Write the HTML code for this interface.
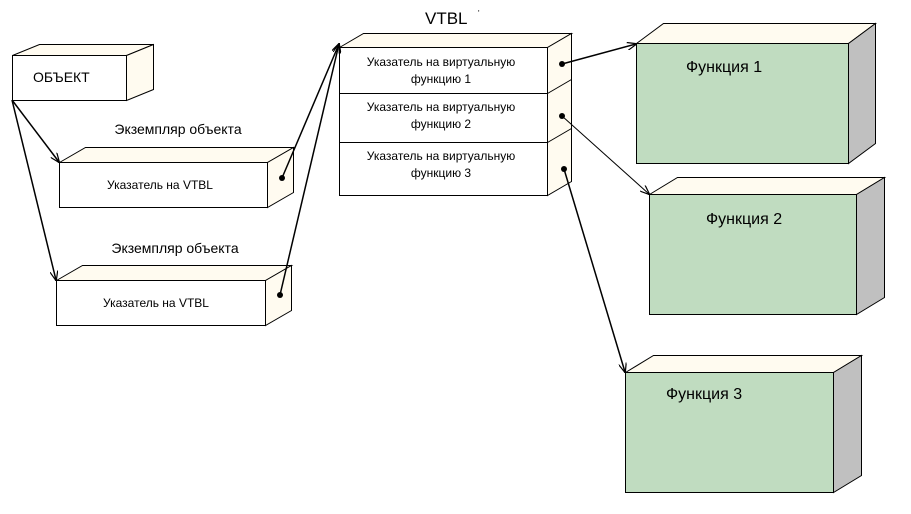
<!DOCTYPE html>
<html><head><meta charset="utf-8"><style>
html,body{margin:0;padding:0;background:#fff;width:911px;height:514px;overflow:hidden}
svg{display:block}
text{font-family:"Liberation Sans",sans-serif;fill:#000}
</style></head><body>
<svg id="s" width="911" height="514" viewBox="0 0 911 514" xmlns="http://www.w3.org/2000/svg">
<defs>
<marker id="a" markerWidth="10" markerHeight="8" refX="9" refY="4" orient="auto" markerUnits="userSpaceOnUse">
<path d="M0,0 L10,4 L0,8" fill="none" stroke="#000" stroke-width="1.2"/></marker>
</defs>
<g id="boxes"></g>
<g stroke="#000" stroke-width="1.5" fill="none">
<line x1="12" y1="100" x2="59" y2="162" marker-end="url(#a)"/>
<line x1="12" y1="100" x2="56" y2="280" marker-end="url(#a)"/>
<line x1="282" y1="178" x2="339" y2="44" marker-end="url(#a)"/>
<line x1="280" y1="295" x2="339" y2="44" marker-end="url(#a)"/>
<line x1="562" y1="64" x2="636" y2="44" marker-end="url(#a)"/>
<line x1="562" y1="116" x2="649" y2="194" stroke-width="1" marker-end="url(#a)"/>
<line x1="564" y1="169" x2="625" y2="372" marker-end="url(#a)"/>
</g>
<g fill="#000">
<circle cx="282" cy="178" r="3"/><circle cx="280" cy="295" r="3"/>
<circle cx="562" cy="64" r="3"/><circle cx="562" cy="116" r="3"/><circle cx="564" cy="169" r="3"/>
</g>
<text x="33" y="82" font-size="14">ОБЪЕКТ</text>
<text x="178" y="134" font-size="14" text-anchor="middle">Экземпляр объекта</text>
<text x="175" y="253" font-size="14" text-anchor="middle">Экземпляр объекта</text>
<text x="160" y="189" font-size="12" text-anchor="middle">Указатель на VTBL</text>
<text x="156" y="307" font-size="12" text-anchor="middle">Указатель на VTBL</text>
<text x="425" y="24" font-size="17">VTBL</text><text x="478" y="16" font-size="8">'</text>
<g font-size="12" text-anchor="middle">
<text x="441" y="66">Указатель на виртуальную</text><text x="441" y="83">функцию 1</text>
<text x="441" y="111">Указатель на виртуальную</text><text x="441" y="128">функцию 2</text>
<text x="441" y="160">Указатель на виртуальную</text><text x="441" y="177">функцию 3</text>
</g>
<text x="686" y="72" font-size="16">Функция 1</text>
<text x="706" y="224" font-size="16">Функция 2</text>
<text x="666" y="399" font-size="16">Функция 3</text>
</svg>
<script>
var g=document.getElementById('boxes'),h='';
function box(x,y,w,hh,dx,dy,front,side,top){
 h+='<polygon points="'+x+','+y+' '+(x+dx)+','+(y-dy)+' '+(x+w+dx)+','+(y-dy)+' '+(x+w)+','+y+'" fill="'+top+'" stroke="#000"/>';
 h+='<polygon points="'+(x+w)+','+y+' '+(x+w+dx)+','+(y-dy)+' '+(x+w+dx)+','+(y+hh-dy)+' '+(x+w)+','+(y+hh)+'" fill="'+side+'" stroke="#000"/>';
 h+='<rect x="'+x+'" y="'+y+'" width="'+w+'" height="'+hh+'" fill="'+front+'" stroke="#000"/>';
}
var c='#fffbf0';
box(12.5,55.5,114,45,27,11,'#fff',c,c);
box(59.5,162.5,208,45,26,15,'#fff',c,c);
box(56.5,280.5,209,45,26,15,'#fff',c,c);
box(339.5,47.5,208,148,24,14,'#fff',c,c);
box(636.5,43.5,212,120,27,20,'#c0dcc0','#c0c0c0',c);
box(649.5,194.5,207,120,28,17,'#c0dcc0','#c0c0c0',c);
box(625.5,372.5,208,120,28,17,'#c0dcc0','#c0c0c0',c);
h+='<line x1="339.5" y1="93.5" x2="547.5" y2="93.5" stroke="#000"/><line x1="339.5" y1="142.5" x2="547.5" y2="142.5" stroke="#000"/>';
h+='<line x1="547.5" y1="93.5" x2="571.5" y2="79.5" stroke="#000"/><line x1="547.5" y1="142.5" x2="571.5" y2="128.5" stroke="#000"/>';
g.innerHTML=h;
</script>
</body></html>
